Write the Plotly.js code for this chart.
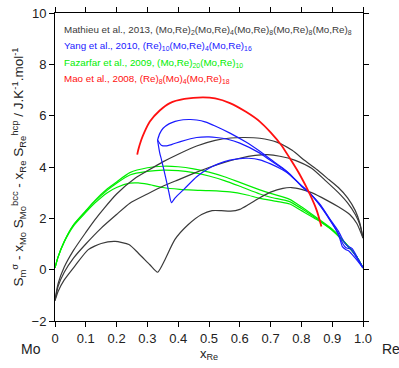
<!DOCTYPE html>
<html>
<head>
<meta charset="utf-8">
<script src="https://cdn.plot.ly/plotly-3.0.1.min.js"></script>
<style>html,body{margin:0;padding:0;background:#fff;}#chart{width:399px;height:368px;}</style>
</head>
<body>
<div id="chart"></div>
<script>
// Mathieu et al., 2013 (black)
var blackTopX = [0, 0.01, 0.03, 0.06, 0.1, 0.13, 0.16, 0.2, 0.26, 0.3, 0.35, 0.4, 0.46, 0.52, 0.57, 0.616, 0.665, 0.72, 0.77, 0.811, 0.85, 0.89, 0.92, 0.95, 0.975, 0.99, 1.0];
var blackTopY = [-1.2, -0.55, 0.1, 0.75, 1.45, 1.95, 2.4, 2.95, 3.56, 3.85, 4.2, 4.5, 4.82, 5.04, 5.13, 5.15, 5.12, 4.97, 4.65, 4.25, 3.9, 3.5, 3.2, 2.8, 2.3, 1.8, 1.23];
var blackMidX = [0, 0.01, 0.03, 0.06, 0.1, 0.15, 0.2, 0.243, 0.3, 0.35, 0.4, 0.45, 0.5, 0.55, 0.6, 0.65, 0.69, 0.73, 0.778, 0.833, 0.88, 0.92, 0.95, 0.975, 0.99, 1.0];
var blackMidY = [-1.2, -0.65, -0.1, 0.45, 1.0, 1.62, 2.15, 2.59, 2.95, 3.25, 3.5, 3.75, 3.98, 4.18, 4.34, 4.45, 4.48, 4.42, 4.27, 3.95, 3.45, 3.0, 2.6, 2.15, 1.75, 1.23];
var blackLowX = [0, 0.01, 0.03, 0.065, 0.108, 0.15, 0.195, 0.24, 0.27, 0.308, 0.333, 0.357, 0.389, 0.432, 0.476, 0.51, 0.54, 0.57, 0.6, 0.63, 0.665, 0.7, 0.74, 0.768, 0.8, 0.833, 0.88, 0.92, 0.957, 0.98, 1.0];
var blackLowY = [-1.2, -0.85, -0.4, 0.15, 0.78, 1.02, 1.1, 0.98, 0.65, 0.19, -0.1, 0.39, 1.17, 1.75, 2.15, 2.3, 2.3, 2.28, 2.35, 2.55, 2.8, 3.02, 3.17, 3.2, 3.13, 3.0, 2.72, 2.45, 2.15, 1.8, 1.23];

// Yang et al., 2010 (blue)
var blueUpX = [0.333, 0.34, 0.351, 0.37, 0.39, 0.416, 0.44, 0.46, 0.487, 0.52, 0.568, 0.62, 0.665, 0.7, 0.74, 0.762, 0.8, 0.827, 0.86, 0.892, 0.915, 0.925, 0.933, 0.945, 0.955, 0.975, 1.0];
var blueUpY = [5.05, 5.3, 5.51, 5.68, 5.78, 5.84, 5.85, 5.83, 5.76, 5.6, 5.32, 4.97, 4.61, 4.3, 3.95, 3.73, 3.25, 2.98, 2.5, 1.94, 1.5, 1.2, 0.9, 0.78, 0.72, 0.45, 0.07];
var blueMidX = [0.333, 0.345, 0.36, 0.38, 0.41, 0.44, 0.46, 0.5, 0.524, 0.56, 0.6, 0.665, 0.7, 0.74, 0.762, 0.8, 0.827, 0.86, 0.892, 0.92, 0.935, 0.945, 0.96, 0.98, 1.0];
var blueMidY = [5.05, 4.85, 4.82, 4.88, 5.0, 5.1, 5.15, 5.17, 5.15, 5.08, 4.93, 4.54, 4.25, 3.93, 3.72, 3.27, 2.98, 2.52, 1.96, 1.4, 1.0, 0.85, 0.8, 0.45, 0.07];
var blueLowX = [0.333, 0.34, 0.346, 0.36, 0.37, 0.378, 0.39, 0.42, 0.46, 0.5, 0.53, 0.568, 0.6, 0.627, 0.665, 0.7, 0.74, 0.762, 0.8, 0.827, 0.86, 0.892, 0.92, 0.94, 0.95, 0.965, 0.985, 1.0];
var blueLowY = [5.05, 4.55, 4.27, 3.55, 3.0, 2.61, 2.8, 3.15, 3.62, 3.95, 4.12, 4.27, 4.33, 4.34, 4.28, 4.12, 3.88, 3.7, 3.28, 2.98, 2.55, 1.98, 1.5, 1.05, 0.92, 0.82, 0.4, 0.07];

// Fazarfar et al., 2009 (green)
var greenAX = [0, 0.01, 0.03, 0.06, 0.1, 0.13, 0.17, 0.2, 0.243, 0.3, 0.351, 0.4, 0.45, 0.5, 0.55, 0.6, 0.665, 0.7, 0.762, 0.8, 0.85, 0.903, 0.95, 0.98, 1.0];
var greenAY = [0.07, 0.5, 1.1, 1.75, 2.3, 2.7, 3.15, 3.42, 3.78, 3.97, 4.03, 4.01, 3.93, 3.8, 3.62, 3.4, 3.11, 2.97, 2.74, 2.45, 2.02, 1.55, 0.95, 0.5, 0.07];
var greenBX = [0, 0.01, 0.03, 0.06, 0.1, 0.13, 0.17, 0.2, 0.243, 0.3, 0.351, 0.4, 0.45, 0.5, 0.55, 0.6, 0.665, 0.7, 0.762, 0.8, 0.85, 0.903, 0.95, 0.98, 1.0];
var greenBY = [0.07, 0.5, 1.1, 1.74, 2.28, 2.67, 3.1, 3.37, 3.69, 3.83, 3.88, 3.86, 3.78, 3.65, 3.47, 3.25, 2.95, 2.82, 2.65, 2.38, 1.98, 1.52, 0.93, 0.5, 0.07];
var greenCX = [0, 0.01, 0.03, 0.06, 0.1, 0.13, 0.17, 0.2, 0.243, 0.27, 0.3, 0.35, 0.405, 0.45, 0.5, 0.568, 0.62, 0.665, 0.72, 0.762, 0.8, 0.85, 0.903, 0.95, 0.98, 1.0];
var greenCY = [0.07, 0.49, 1.08, 1.7, 2.23, 2.6, 3.0, 3.2, 3.37, 3.38, 3.33, 3.2, 3.13, 3.1, 3.08, 3.03, 2.92, 2.78, 2.66, 2.56, 2.3, 1.95, 1.5, 0.93, 0.5, 0.07];

// Mao et al., 2008 (red)
var redX = [0.267, 0.27, 0.28, 0.29, 0.308, 0.34, 0.373, 0.42, 0.481, 0.52, 0.568, 0.62, 0.665, 0.7, 0.735, 0.762, 0.795, 0.827, 0.85, 0.865];
var redY = [4.48, 4.65, 5.05, 5.35, 5.77, 6.2, 6.49, 6.65, 6.71, 6.67, 6.49, 6.15, 5.77, 5.35, 4.85, 4.35, 3.7, 2.95, 2.3, 1.68];

var xTickVals = [0, 0.1, 0.2, 0.3, 0.4, 0.5, 0.6, 0.7, 0.8, 0.9, 1.0];
var xTickText = ['0', '0.1', '0.2', '0.3', '0.4', '0.5', '0.6', '0.7', '0.8', '0.9', '1.0'];
var yTickVals = [-2, 0, 2, 4, 6, 8, 10];

var legendTexts = [
  'Mathieu et al., 2013, (Mo,Re)<sub>2</sub>(Mo,Re)<sub>4</sub>(Mo,Re)<sub>8</sub>(Mo,Re)<sub>8</sub>(Mo,Re)<sub>8</sub>',
  'Yang et al., 2010, (Re)<sub>10</sub>(Mo,Re)<sub>4</sub>(Mo,Re)<sub>16</sub>',
  'Fazarfar et al., 2009, (Mo,Re)<sub>20</sub>(Mo,Re)<sub>10</sub>',
  'Mao et al., 2008, (Re)<sub>8</sub>(Mo)<sub>4</sub>(Mo,Re)<sub>18</sub>'
];

var BLACK = '#3a3a3a', BLUE = '#1a1aff', GREEN = '#00ee00', RED = '#ff1010';
var legendColors = [BLACK, BLUE, GREEN, RED];
var FONT = 'Liberation Sans, Arial, sans-serif';

function tr(x, y, c, w) {
  return {x: x, y: y, type: 'scatter', mode: 'lines', hoverinfo: 'skip', showlegend: false,
          line: {color: c, width: w, shape: 'spline', smoothing: 0.6}};
}

var data = [
  tr(greenAX, greenAY, GREEN, 1.2),
  tr(greenBX, greenBY, GREEN, 1.2),
  tr(greenCX, greenCY, GREEN, 1.2),
  tr(blackTopX, blackTopY, BLACK, 1.2),
  tr(blackMidX, blackMidY, BLACK, 1.2),
  tr(blackLowX, blackLowY, BLACK, 1.2),
  tr(blueUpX, blueUpY, BLUE, 1.2),
  tr(blueMidX, blueMidY, BLUE, 1.2),
  tr(blueLowX, blueLowY, BLUE, 1.2),
  tr(redX, redY, RED, 1.8)
];

var annotations = legendTexts.map(function (t, i) {
  return {xref: 'paper', yref: 'paper', x: 0.022, y: 0.945 - i * 0.053, xanchor: 'left', yanchor: 'middle',
          text: t, showarrow: false, font: {family: FONT, size: 9.8, color: legendColors[i]}};
});
annotations.push({xref: 'paper', yref: 'paper', x: -0.078, y: -0.09, xanchor: 'center', yanchor: 'middle',
                  text: 'Mo', showarrow: false, font: {family: FONT, size: 14, color: '#222'}});
annotations.push({xref: 'paper', yref: 'paper', x: 1.09, y: -0.09, xanchor: 'center', yanchor: 'middle',
                  text: 'Re', showarrow: false, font: {family: FONT, size: 14, color: '#222'}});

var axisCommon = {showgrid: false, zeroline: false, showline: true, linecolor: '#000', linewidth: 1,
                  ticks: 'outside', ticklen: 5, tickwidth: 1, tickcolor: '#000', mirror: 'ticks',
                  tickfont: {family: FONT, size: 13, color: '#222'}};

var layout = {
  width: 399, height: 368,
  margin: {l: 55, r: 36, t: 12.5, b: 46.5},
  paper_bgcolor: '#fff', plot_bgcolor: '#fff',
  showlegend: false,
  xaxis: Object.assign({}, axisCommon, {range: [0, 1], tickvals: xTickVals, ticktext: xTickText,
    title: {text: 'x<sub>Re</sub>', standoff: 3, font: {family: FONT, size: 13, color: '#222'}}}),
  yaxis: Object.assign({}, axisCommon, {range: [-2, 10], tickvals: yTickVals,
    title: {text: 'S<sub>m</sub><sup>σ</sup> - x<sub>Mo</sub> S<sub>Mo</sub><sup>bcc</sup> - x<sub>Re</sub> S<sub>Re</sub><sup>hcp</sup> / J.K<sup>-1</sup>.mol<sup>-1</sup>',
            standoff: 4, font: {family: FONT, size: 13.5, color: '#222'}}}),
  annotations: annotations
};

Plotly.newPlot('chart', data, layout, {staticPlot: true, displayModeBar: false});
</script>
</body>
</html>
